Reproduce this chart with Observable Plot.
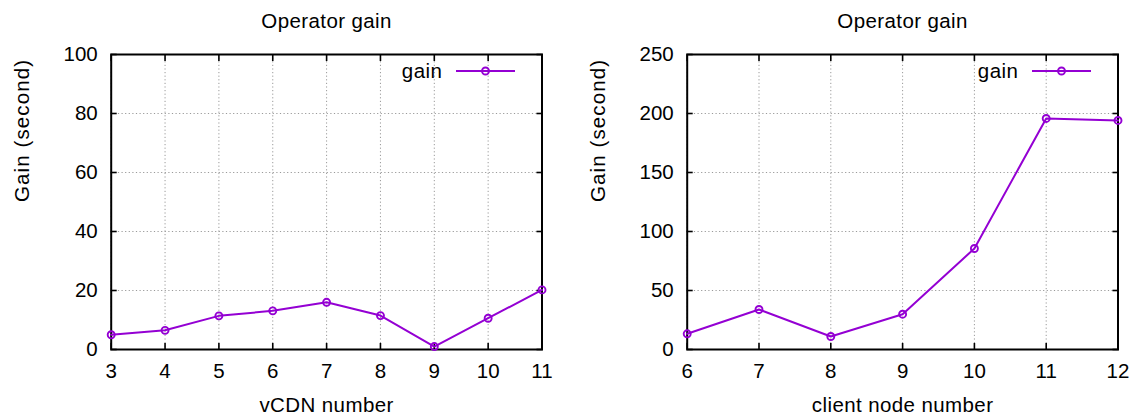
<!DOCTYPE html>
<html>
<head>
<meta charset="utf-8">
<script src="https://cdn.jsdelivr.net/npm/d3@7"></script>
<script src="https://cdn.jsdelivr.net/npm/@observablehq/plot@0.6"></script>
<style>
  html, body { margin: 0; padding: 0; background: white; }
  #wrap { display: flex; width: 1136px; height: 416px; overflow: hidden; }
  #wrap svg { display: block; }
</style>
</head>
<body>
<div id="wrap"></div>
<script>
// ---- Data ----
const title = "Operator gain";
const yLabel = "Gain (second)";
const seriesName = "gain";

const leftXLabel = "vCDN number";
const leftX = [3, 4, 5, 6, 7, 8, 9, 10, 11];
const leftGain = [5.0, 6.5, 11.4, 13.1, 16.0, 11.5, 1.0, 10.6, 20.2];
const leftXTicks = [3, 4, 5, 6, 7, 8, 9, 10, 11];
const leftYTicks = [0, 20, 40, 60, 80, 100];

const rightXLabel = "client node number";
const rightX = [6, 7, 8, 9, 10, 11, 12];
const rightGain = [13.3, 33.9, 11.0, 29.9, 85.6, 195.8, 194.1];
const rightXTicks = [6, 7, 8, 9, 10, 11, 12];
const rightYTicks = [0, 50, 100, 150, 200, 250];

const COLOR = "#9400d3";
const FONT = "'Liberation Sans', Arial, Helvetica, sans-serif";

function legendMark(index, scales, values, dims) {
  const g = d3.create("svg:g");
  const xr = dims.width - dims.marginRight;
  const lineEnd = xr - 26.5, lineStart = lineEnd - 59, cx = lineEnd - 29.5;
  const y = 71;
  g.append("text")
    .attr("x", lineStart - 13.5).attr("y", y).attr("dy", "0.36em")
    .attr("text-anchor", "end").attr("fill", "black")
    .style("letter-spacing", "0.5px")
    .text(seriesName);
  g.append("line")
    .attr("x1", lineStart).attr("x2", lineEnd).attr("y1", y).attr("y2", y)
    .attr("stroke", COLOR).attr("stroke-width", 2);
  g.append("circle")
    .attr("cx", cx).attr("cy", y).attr("r", 3.5)
    .attr("fill", "none").attr("stroke", COLOR).attr("stroke-width", 1.9);
  return g.node();
}

function panel({xs, ys, xTicks, yTicks, xLabel, marginLeft, marginRight}) {
  const data = xs.map((x, i) => ({x, y: ys[i]}));
  const grid = {stroke: "#9a9a9a", strokeOpacity: 1, strokeWidth: 1, strokeDasharray: "1.2,2.4"};
  const svg = Plot.plot({
    width: 568,
    height: 416,
    marginLeft,
    marginRight,
    marginTop: 54,
    marginBottom: 67,
    style: {fontSize: "20.5px", fontFamily: FONT, background: "white", color: "black", overflow: "visible"},
    x: {domain: [xTicks[0], xTicks[xTicks.length - 1]]},
    y: {domain: [yTicks[0], yTicks[yTicks.length - 1]]},
    marks: [
      Plot.gridX(xTicks, grid),
      Plot.gridY(yTicks, grid),
      Plot.axisX(xTicks, {anchor: "bottom", tickSize: 0, tickPadding: 14, label: null, tickFormat: d => String(d)}),
      Plot.axisY(yTicks, {anchor: "left", tickSize: 0, tickPadding: 13.5, label: null, tickFormat: d => String(d)}),
      Plot.axisX(xTicks, {anchor: "bottom", tickSize: -6, strokeWidth: 1.6, text: null, label: null}),
      Plot.axisX(xTicks, {anchor: "top", tickSize: -6, strokeWidth: 1.6, text: null, label: null}),
      Plot.axisY(yTicks, {anchor: "left", tickSize: -6, strokeWidth: 1.6, text: null, label: null}),
      Plot.axisY(yTicks, {anchor: "right", tickSize: -6, strokeWidth: 1.6, text: null, label: null}),
      Plot.frame({stroke: "black", strokeWidth: 2}),
      Plot.text([title], {text: d => d, frameAnchor: "top", lineAnchor: "top", dy: -41.5, fill: "black"}),
      Plot.text([xLabel], {text: d => d, frameAnchor: "bottom", lineAnchor: "top", dy: 47.5, fill: "black"}),
      Plot.text([yLabel], {text: d => d, frameAnchor: "left", rotate: -90, dx: -88.7, lineAnchor: "middle", fill: "black"}),
      Plot.line(data, {x: "x", y: "y", stroke: COLOR, strokeWidth: 2}),
      Plot.dot(data, {x: "x", y: "y", r: 3.5, stroke: COLOR, strokeWidth: 1.9, fill: "none"}),
      legendMark
    ]
  });
  // widen label lettering to match the reference rendering
  d3.select(svg).selectAll('g[aria-label="text"] text').each(function() {
    const t = this.textContent;
    d3.select(this).style("letter-spacing", t === yLabel ? "1.1px" : "0.4px");
  });
  return svg;
}

const wrap = document.getElementById("wrap");
wrap.append(panel({xs: leftX, ys: leftGain, xTicks: leftXTicks, yTicks: leftYTicks, xLabel: leftXLabel, marginLeft: 110.7, marginRight: 26.5}));
wrap.append(panel({xs: rightX, ys: rightGain, xTicks: rightXTicks, yTicks: rightYTicks, xLabel: rightXLabel, marginLeft: 118.7, marginRight: 18.5}));
</script>
</body>
</html>
